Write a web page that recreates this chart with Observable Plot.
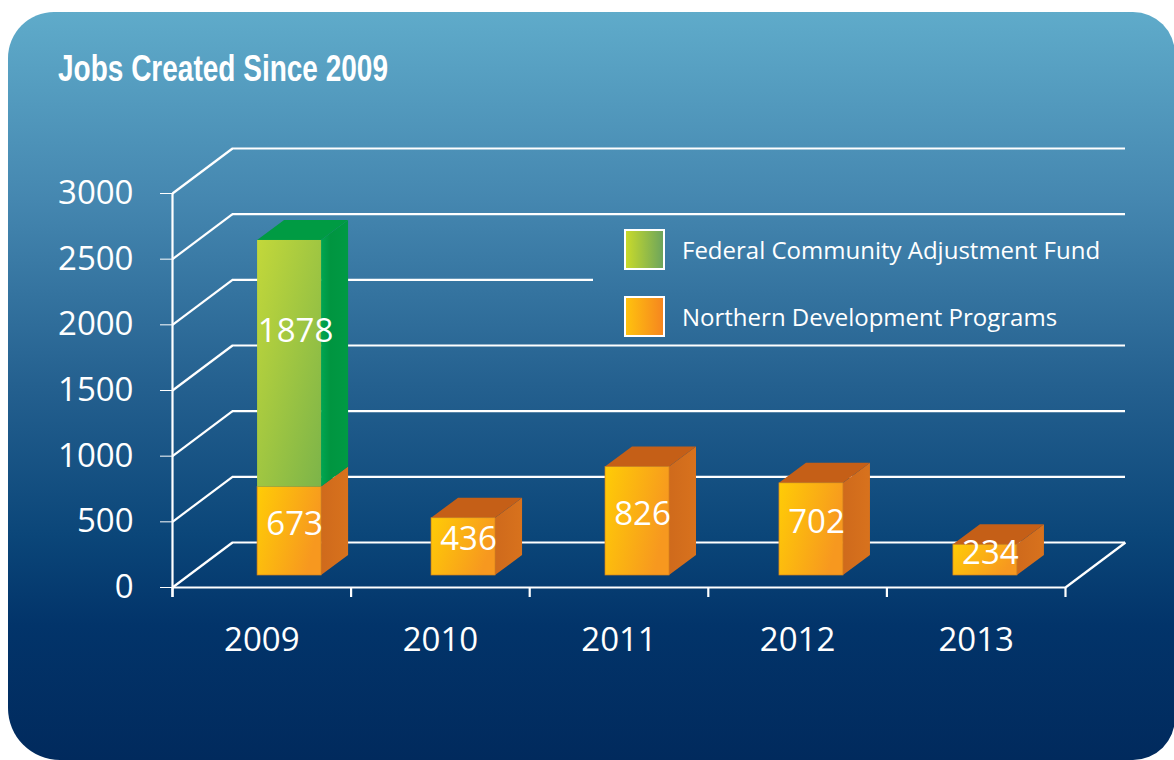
<!DOCTYPE html>
<html><head><meta charset="utf-8">
<script src="https://cdn.jsdelivr.net/npm/d3@7"></script>
<script src="https://cdn.jsdelivr.net/npm/@observablehq/plot@0.6"></script>
<style>
html,body{margin:0;padding:0;background:#fff;width:1174px;height:760px;overflow:hidden;}
#panel{position:absolute;left:8px;top:12px;width:1167px;height:748px;border-radius:46px 42px 42px 52px;
  background:linear-gradient(to bottom,#5fabca 0%,#4587b0 25%,#24608f 50%,#0b4679 70%,#02346a 82%,#012a5d 100%);overflow:hidden;}
#title{position:absolute;left:50px;top:38px;font-family:"Liberation Sans Narrow","Liberation Sans",Arial,sans-serif;font-weight:bold;font-size:37px;line-height:37px;color:#fff;white-space:nowrap;transform-origin:0 0;}
#chart{position:absolute;left:0;top:90px;}
.lg{position:absolute;left:616px;display:flex;align-items:center;font-family:"Open Sans",sans-serif;font-size:24px;color:#fff;white-space:nowrap;}
.lg .sw{width:37px;height:37px;border:2px solid #fff;margin-right:17px;box-sizing:content-box;}
</style></head>
<body>
<div id="panel">
  <div id="title"><span id="tt">Jobs Created Since 2009</span></div>
  <div id="chart"></div>
  <div class="lg" style="top:217px"><div class="sw" style="background:linear-gradient(to right,#c8da2b,#6da55c)"></div><span id="l1"></span></div>
  <div class="lg" style="top:284px"><div class="sw" style="background:linear-gradient(to right,#ffc20e,#f6861f)"></div><span id="l2"></span></div>
</div>
<script>
// ---- data ----
const years = ["2009", "2010", "2011", "2012", "2013"];
const northern = [673, 436, 826, 702, 234];
const federal = [1878, 0, 0, 0, 0];
const seriesNames = ["Federal Community Adjustment Fund", "Northern Development Programs"];
const yTicks = [0, 500, 1000, 1500, 2000, 2500, 3000];

document.getElementById("l1").textContent = seriesNames[0];
document.getElementById("l2").textContent = seriesNames[1];

// ---- layout ----
const W = 1167, H = 658;
const mL = 164, mR = 110, mT = 91, mB = 173;
const xPx = (W - mL - mR) / years.length;   // px per category unit
const yPx = (H - mT - mB) / 3000;           // px per value unit
const dX = p => p / xPx, dY = p => p / yPx;

const WALL_X = dX(60), WALL_Y = dY(45);       // depth of the 3D box
const BAR_OFF_X = dX(16), BAR_OFF_Y = dY(12); // bars sit a little behind the front
const BAR_DX = dX(27), BAR_DY = dY(20);       // bar depth
const BAR_W = dX(64);
const barCenter = i => 0.566 + 0.974 * i + BAR_OFF_X;
const legendGapX = dX(585 - mL);
const inLegendBand = v => { const py = H - mB - (v + WALL_Y) * yPx; return py > 120 && py < 243; };

// build stacked segments
const segs = [];
years.forEach((yr, i) => {
  const c = barCenter(i);
  let lo = 0;
  [["north", northern[i]], ["fed", federal[i]]].forEach(([s, v]) => {
    if (!v) return;
    segs.push({year: yr, series: s, value: v, x1: c - BAR_W / 2, x2: c + BAR_W / 2,
               y1: lo + BAR_OFF_Y, y2: lo + v + BAR_OFF_Y, top: false});
    lo += v;
  });
  segs[segs.length - 1].top = true;
});
const side = segs.flatMap((s, k) => [
  {id: k, series: s.series, x: s.x2, y1: s.y1, y2: s.y2},
  {id: k, series: s.series, x: s.x2 + BAR_DX, y1: s.y1 + BAR_DY, y2: s.y2 + BAR_DY}
]);
const tops = segs.filter(s => s.top).flatMap((s, k) => [
  {id: k, series: s.series, y: s.y2, x1: s.x1, x2: s.x2},
  {id: k, series: s.series, y: s.y2 + BAR_DY, x1: s.x1 + BAR_DX, x2: s.x2 + BAR_DX}
]);
const isN = d => d.series === "north", isF = d => d.series === "fed";
const lineStyle = {stroke: "white", strokeWidth: 2.2};

const plot = Plot.plot({
  width: W, height: H,
  marginLeft: mL, marginRight: mR, marginTop: mT, marginBottom: mB,
  style: {background: "transparent", color: "white", fontFamily: "'Open Sans', sans-serif", fontSize: "33px", overflow: "visible"},
  x: {domain: [0, years.length], axis: null},
  y: {domain: [0, 3000], ticks: yTicks, tickSize: 12, tickPadding: 27, label: null, tickFormat: d => String(d)},
  marks: [
    // side wall diagonals and back wall lines
    Plot.link(yTicks, {x1: 0, y1: d => d, x2: WALL_X, y2: d => d + WALL_Y, ...lineStyle}),
    Plot.ruleY(yTicks, {y: d => d + WALL_Y, x1: WALL_X, x2: d => inLegendBand(d) ? legendGapX : years.length + WALL_X, ...lineStyle}),
    // floor
    Plot.ruleY([0], {x1: 0, x2: years.length, ...lineStyle}),
    Plot.link([0], {x1: years.length, y1: 0, x2: years.length + WALL_X, y2: WALL_Y, ...lineStyle}),
    Plot.ruleX(d3.range(years.length + 1), {y1: 0, y2: -dY(10), ...lineStyle}),
    Plot.ruleX([0], {y1: -dY(10), y2: 3000, ...lineStyle}),
    // bars: side faces
    Plot.areaY(side.filter(isN), {x: "x", y1: "y1", y2: "y2", z: "id", fill: "url(#sideO)"}),
    Plot.areaY(side.filter(isF), {x: "x", y1: "y1", y2: "y2", z: "id", fill: "url(#sideG)"}),
    // top faces
    Plot.areaX(tops.filter(isN), {y: "y", x1: "x1", x2: "x2", z: "id", fill: "#c55f17"}),
    Plot.areaX(tops.filter(isF), {y: "y", x1: "x1", x2: "x2", z: "id", fill: "#009b43"}),
    // front faces
    Plot.rect(segs.filter(isN), {x1: "x1", x2: "x2", y1: "y1", y2: "y2", fill: "url(#frontO)", stroke: "#d6801c", strokeWidth: 0.7}),
    Plot.rect(segs.filter(isF), {x1: "x1", x2: "x2", y1: "y1", y2: "y2", fill: "url(#frontG)"}),
    // value labels
    Plot.text(segs.filter(isN), {x: s => (s.x1 + s.x2) / 2, y: s => (s.y1 + s.y2) / 2, text: s => String(s.value), dx: 5, dy: -7, fill: "white", fontSize: 33}),
    Plot.text(segs.filter(isF), {x: s => (s.x1 + s.x2) / 2, y: s => (s.y1 + s.y2) / 2, text: s => String(s.value), dx: 6, dy: -32, fill: "white", fontSize: 33}),
    // year labels
    Plot.text(years, {x: (d, i) => i + 0.5, y: 0, text: d => d, dy: 53, fill: "white", fontSize: 33})
  ]
});

d3.select(plot).insert("defs", ":first-child").html(`
  <linearGradient id="frontO" x1="0" y1="0" x2="1" y2="0.35">
    <stop offset="0" stop-color="#ffcc06"/><stop offset="1" stop-color="#f7981f"/></linearGradient>
  <linearGradient id="sideO" x1="0" y1="0" x2="1" y2="0">
    <stop offset="0" stop-color="#cf6a1c"/><stop offset="1" stop-color="#d8721d"/></linearGradient>
  <linearGradient id="frontG" x1="0" y1="0" x2="1" y2="1">
    <stop offset="0" stop-color="#c3d83a"/><stop offset="1" stop-color="#7cb449"/></linearGradient>
  <linearGradient id="sideG" x1="0" y1="0" x2="1" y2="0">
    <stop offset="0" stop-color="#00a651"/><stop offset="0.35" stop-color="#009540"/><stop offset="1" stop-color="#009a44"/></linearGradient>
`);
document.getElementById("chart").appendChild(plot);

// condense the title to the width of the original lettering
const tt = document.getElementById("tt");
const w = tt.getBoundingClientRect().width;
document.getElementById("title").style.transform = `scaleX(${330 / w})`;
</script>
</body></html>
